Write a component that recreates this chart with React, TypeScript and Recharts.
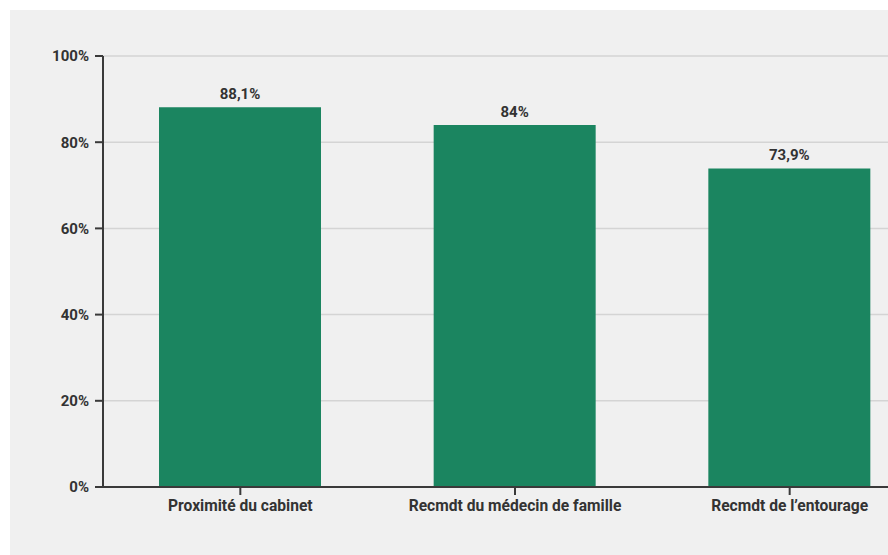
import React from 'react';
import { BarChart, Bar, XAxis, YAxis, CartesianGrid, LabelList } from 'recharts';

const categories = ['Proximité du cabinet', 'Recmdt du médecin de famille', "Recmdt de l\u2019entourage"];
const values = [88.1, 84, 73.9];
const yTicks = [0, 20, 40, 60, 80, 100];

const data = categories.map((name, i) => ({ name, value: values[i] }));

const fmtPct = (v: number) => String(v).replace('.', ',') + '%';

const axisText = { fill: '#333333', fontSize: 15, fontWeight: 700, fontFamily: 'Roboto' };
const catText = { fill: '#333333', fontSize: 15.6, fontWeight: 700, fontFamily: 'Roboto' };

export default function App() {
  return (
    <div
      style={{
        position: 'absolute',
        left: 10,
        top: 10,
        width: 878,
        height: 545,
        background: '#f0f0f0',
        overflow: 'hidden',
      }}
    >
      <BarChart
        width={917}
        height={545}
        data={data}
        margin={{ top: 46, right: 0, bottom: 38, left: 0 }}
      >
        <CartesianGrid vertical={false} stroke="#d4d4d4" strokeWidth={1.5} />
        <XAxis
          dataKey="name"
          height={30}
          tickSize={8}
          tickMargin={5}
          axisLine={{ stroke: '#3a3a3a', strokeWidth: 2 }}
          tickLine={{ stroke: '#3a3a3a', strokeWidth: 2 }}
          tick={catText}
          interval={0}
        />
        <YAxis
          width={93}
          domain={[0, 100]}
          ticks={yTicks}
          tickFormatter={(v: number) => v + '%'}
          tickSize={8}
          tickMargin={6}
          axisLine={{ stroke: '#3a3a3a', strokeWidth: 2 }}
          tickLine={{ stroke: '#3a3a3a', strokeWidth: 2 }}
          tick={axisText}
        />
        <Bar dataKey="value" fill="#1b8560" barSize={162} isAnimationActive={false}>
          <LabelList
            dataKey="value"
            position="top"
            offset={8}
            formatter={(v: any) => fmtPct(Number(v))}
            style={axisText}
          />
        </Bar>
      </BarChart>
    </div>
  );
}
